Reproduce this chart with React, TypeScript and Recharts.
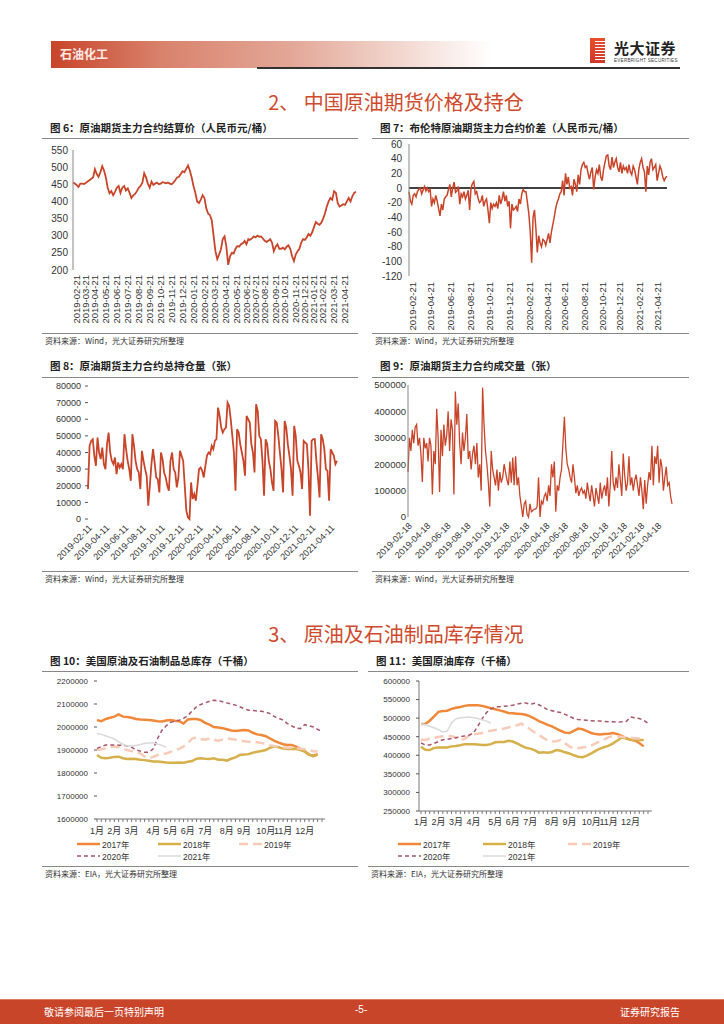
import React from "react"
import { LineChart, Line, XAxis, YAxis, ReferenceLine } from "recharts"

const RED = "#c8452a"
const FONT = '"Liberation Sans", Arial, "Noto Sans CJK SC", sans-serif'
const CJK = '"Noto Sans CJK SC", "Liberation Sans", sans-serif'

// 图6 原油期货主力合约结算价 (one row of values per month, Feb 2019 .. May 2021)
const settleLabels = [
  "2019-02-21", "2019-03-21", "2019-04-21", "2019-05-21", "2019-06-21", "2019-07-21", "2019-08-21",
  "2019-09-21", "2019-10-21", "2019-11-21", "2019-12-21", "2020-01-21", "2020-02-21", "2020-03-21",
  "2020-04-21", "2020-05-21", "2020-06-21", "2020-07-21", "2020-08-21", "2020-09-21", "2020-10-21",
  "2020-11-21", "2020-12-21", "2021-01-21", "2021-02-21", "2021-03-21", "2021-04-21",
]
const settleByMonth = [
  [455, 452, 448, 442, 452],
  [452, 451, 454, 458, 462],
  [466, 470, 494, 480, 472, 485],
  [503, 490, 470, 440, 424, 430],
  [418, 428, 440, 445, 425, 440],
  [445, 432, 438, 425, 410, 418],
  [422, 430, 440, 445, 455, 482],
  [470, 452, 440, 458, 448, 452],
  [455, 450, 452, 456, 455, 453],
  [455, 452, 450, 455, 462, 470],
  [472, 480, 488, 485, 495, 505],
  [490, 470, 445, 425, 400, 395],
  [405, 418, 410, 380, 365, 360],
  [345, 300, 255, 232, 245, 260],
  [290, 298, 268, 215, 240, 250],
  [248, 262, 270, 268, 275],
  [278, 285, 275, 290, 288],
  [292, 298, 295, 300, 297],
  [298, 292, 285, 282, 285, 290],
  [280, 255, 268, 275, 262],
  [262, 265, 260, 268, 272, 262],
  [240, 226, 245, 255, 262],
  [280, 290, 288, 295, 305],
  [300, 310, 325, 340, 335],
  [332, 338, 350, 365, 385, 400],
  [410, 405, 430, 425, 395, 385],
  [388, 392, 390, 400, 410, 400],
  [415, 425, 428],
]

// 图7 布伦特原油期货主力合约价差
const spreadLabels = [
  "2019-02-21", "2019-04-21", "2019-06-21", "2019-08-21", "2019-10-21", "2019-12-21", "2020-02-21",
  "2020-04-21", "2020-06-21", "2020-08-21", "2020-10-21", "2020-12-21", "2021-02-21", "2021-04-21",
]
const spreadByMonth = [
  [-5, -18, -22, -10, -8, -12],
  [-5, -2, 0, -8, -3, 2, -4],
  [0, -5, -2, -25, -15, -20, -10],
  [-18, -28, -38, -22, -30, -15, -12],
  [-10, -2, 5, -12, 0, 8, -6],
  [-4, 2, -22, -8, -12, -5, -15],
  [-10, -3, -30, 0, 6, 9, -8],
  [-5, -14, -20, -18, -10, -25, -18],
  [-15, -30, -48, -20, -28, -22, -25],
  [-20, -28, -10, -22, -15, -5, -18],
  [-10, -25, -18, -55, -22, -30, -28],
  [-25, -32, -15, -22, -8, -2, -5],
  [-5, -20, -35, -60, -102, -40],
  [-30, -55, -88, -65, -75, -80, -70],
  [-72, -78, -70, -62, -75, -60],
  [-50, -40, -28, -20, -15, -8],
  [-5, 10, -10, 20, 5, 15, 0],
  [2, -10, 12, 5, -5, 18, 5],
  [25, 32, 35, 28, 30, 20],
  [12, 22, 28, -2, 15, 25, 20],
  [32, 15, 10, 25, 35, 44],
  [45, 30, 25, 42, 28, 35],
  [40, 28, 22, 35, 20, 30, 25],
  [28, 20, 32, 22, 18, 30, 25],
  [15, 5, 25, 35, 40, 28],
  [22, -5, 30, 18, 35, 40, 25],
  [28, 32, 10, 20, 30, 25],
  [15, 10, 14, 16],
]

// 图8 原油期货主力合约总持仓量
const oiLabels = [
  "2019-02-11", "2019-04-11", "2019-06-11", "2019-08-11", "2019-10-11", "2019-12-11", "2020-02-11",
  "2020-04-11", "2020-06-11", "2020-08-11", "2020-10-11", "2020-12-11", "2021-02-11", "2021-04-11",
]
const oiByMonth = [
  [18000, 44000, 47000, 48000, 38000],
  [32000, 49000, 40000, 36000, 43000, 33000],
  [30000, 45000, 52000, 40000, 35000, 33000],
  [37000, 27000, 34000, 31000, 33000, 30000],
  [51000, 42000, 35000, 30000, 23000],
  [51000, 44000, 35000, 30000, 28000, 18000],
  [41000, 35000, 30000, 26000, 8000, 20000],
  [33000, 42000, 34000, 25000, 24000, 16000],
  [40000, 36000, 28000, 25000, 20000, 17000],
  [35000, 40000, 30000, 28000, 19000, 25000],
  [41000, 38000, 35000, 20000, 5000, 1000],
  [0, 22000, 12000, 15000, 11000, 20000],
  [30000, 31000, 29000, 25000, 32000, 38000],
  [40000, 39000, 44000, 42000, 47000, 48000],
  [67000, 62000, 55000, 52000, 54000, 55000],
  [70000, 68000, 60000, 50000, 40000, 17000],
  [54000, 52000, 45000, 40000, 35000, 26000],
  [62000, 60000, 58000, 45000, 40000, 28000],
  [69000, 65000, 50000, 48000, 35000, 14000],
  [48000, 45000, 35000, 30000, 22000, 17000],
  [59000, 58000, 50000, 40000, 30000, 16000],
  [59000, 55000, 45000, 38000, 30000, 14000],
  [56000, 50000, 35000, 32000, 28000, 18000],
  [47000, 46000, 45000, 30000, 2000],
  [47000, 48000, 48000, 35000, 25000, 13000],
  [51000, 48000, 42000, 30000, 29000, 11000],
  [42000, 40000, 38000, 33000, 35000],
]

// 图9 原油期货主力合约成交量
const volLabels = [
  "2019-02-18", "2019-04-18", "2019-06-18", "2019-08-18", "2019-10-18", "2019-12-18", "2020-02-18",
  "2020-04-18", "2020-06-18", "2020-08-18", "2020-10-18", "2020-12-18", "2021-02-18", "2021-04-18",
]
const volByMonth = [
  [170000, 300000, 250000, 330000, 280000, 340000],
  [350000, 270000, 300000, 240000, 133000, 300000, 260000],
  [280000, 210000, 300000, 270000, 85000, 250000, 200000],
  [410000, 300000, 95000, 330000, 230000, 350000, 270000],
  [310000, 400000, 250000, 370000, 330000, 85000, 475000],
  [350000, 430000, 280000, 200000, 320000, 250000, 300000],
  [390000, 220000, 250000, 180000, 240000, 270000, 200000],
  [280000, 150000, 200000, 100000, 490000, 350000, 250000],
  [200000, 130000, 40000, 250000, 180000, 150000],
  [120000, 180000, 100000, 170000, 130000, 150000, 200000],
  [170000, 140000, 120000, 210000, 130000, 225000, 120000],
  [230000, 120000, 150000, 80000, 40000, 0, 50000],
  [60000, 10000, 0, 50000, 20000, 25000, 30000],
  [30000, 40000, 150000, 0, 60000, 50000, 80000],
  [90000, 60000, 120000, 80000, 200000, 150000, 210000],
  [20000, 120000, 100000, 150000, 180000, 280000],
  [380000, 260000, 200000, 180000, 150000, 130000, 200000],
  [150000, 90000, 120000, 80000, 100000, 110000, 90000],
  [100000, 70000, 130000, 90000, 60000, 120000, 80000],
  [40000, 110000, 80000, 50000, 130000, 70000, 100000],
  [120000, 80000, 150000, 40000, 120000, 250000, 130000],
  [100000, 150000, 110000, 200000, 140000, 80000],
  [240000, 160000, 100000, 130000, 230000, 120000],
  [150000, 100000, 140000, 160000, 120000, 80000],
  [150000, 100000, 30000, 140000, 50000, 120000],
  [170000, 140000, 270000, 120000, 230000, 200000],
  [270000, 130000, 220000, 190000, 100000, 150000, 190000],
  [120000, 130000, 80000, 50000],
]

// 图10 / 图11 weekly inventories (千桶), week slots of the year
const monthNames = ["1月", "2月", "3月", "4月", "5月", "6月", "7月", "8月", "9月", "10月", "11月", "12月"]
const monthWeeks10 = [0, 4, 8, 13, 17, 21, 25, 30, 34, 39, 43, 48]
const monthWeeks11 = [0, 4, 8, 12, 17, 21, 25, 30, 34, 39, 43, 48]
const weekCount = 53

const total2017 = [
  2030000, 2025000, 2035000, 2040000, 2045000, 2055000, 2045000, 2043000, 2040000, 2035000,
  2033000, 2032000, 2030000, 2028000, 2025000, 2024000, 2028000, 2030000, 2027000, 2025000,
  2015000, 2033000, 2035000, 2035000, 2030000, 2018000, 2010000, 2000000, 1998000, 1995000,
  1990000, 1985000, 1983000, 1985000, 1987000, 1985000, 1975000, 1968000, 1965000, 1960000,
  1950000, 1940000, 1932000, 1925000, 1922000, 1922000, 1915000, 1905000, 1895000, 1880000,
  1875000, 1882000,
]
const total2018 = [
  1878000, 1866000, 1864000, 1866000, 1870000, 1871000, 1864000, 1861000, 1862000, 1861000,
  1858000, 1856000, 1853000, 1850000, 1850000, 1848000, 1846000, 1845000, 1845000, 1846000,
  1845000, 1849000, 1852000, 1862000, 1864000, 1862000, 1861000, 1864000, 1858000, 1858000,
  1854000, 1862000, 1868000, 1878000, 1880000, 1882000, 1888000, 1892000, 1896000, 1900000,
  1910000, 1916000, 1912000, 1906000, 1904000, 1905000, 1904000, 1900000, 1893000, 1880000,
  1872000, 1880000,
]
const total2019 = [
  1900000, 1903000, 1907000, 1912000, 1915000, 1912000, 1905000, 1900000, 1895000, 1890000,
  1885000, 1872000, 1864000, 1870000, 1878000, 1882000, 1885000, 1892000, 1900000, 1905000,
  1915000, 1930000, 1950000, 1955000, 1948000, 1945000, 1950000, 1945000, 1940000, 1945000,
  1950000, 1948000, 1945000, 1940000, 1938000, 1936000, 1936000, 1934000, 1930000, 1928000,
  1920000, 1917000, 1915000, 1912000, 1910000, 1910000, 1908000, 1906000, 1903000, 1900000,
  1895000, 1893000,
]
const total2020 = [
  1907000, 1915000, 1922000, 1922000, 1922000, 1921000, 1920000, 1918000, 1912000, 1900000,
  1895000, 1890000, 1890000, 1905000, 1950000, 1985000, 2005000, 2020000, 2025000, 2030000,
  2038000, 2050000, 2070000, 2088000, 2098000, 2105000, 2112000, 2116000, 2115000, 2110000,
  2105000, 2100000, 2095000, 2088000, 2080000, 2073000, 2072000, 2070000, 2068000, 2065000,
  2058000, 2045000, 2038000, 2030000, 2015000, 2005000, 1995000, 1993000, 2010000, 2005000,
  2000000, 1990000, 1980000,
]
const total2021 = [
  1972000, 1968000, 1962000, 1955000, 1948000, 1935000, 1925000, 1918000, 1917000, 1920000,
  1924000, 1929000, 1930000, 1930000, 1926000, 1920000, 1912000,
]

const crude2017 = [
  484000, 485000, 493000, 505000, 517000, 519000, 520000, 525000, 528000, 530000,
  533000, 535000, 535000, 535000, 533000, 530000, 527000, 524000, 521000, 518000,
  514000, 513000, 512000, 511000, 509000, 505000, 499000, 492000, 487000, 482000,
  478000, 472000, 466000, 461000, 460000, 466000, 472000, 470000, 465000, 460000,
  457000, 456000, 457000, 458000, 460000, 457000, 452000, 446000, 442000, 440000,
  433000, 424000,
]
const crude2018 = [
  423000, 415000, 414000, 420000, 421000, 421000, 421000, 424000, 425000, 427000,
  430000, 430000, 430000, 429000, 428000, 428000, 430000, 435000, 436000, 436000,
  439000, 437000, 432000, 426000, 420000, 418000, 414000, 407000, 408000, 407000,
  409000, 414000, 412000, 408000, 405000, 400000, 396000, 395000, 399000, 405000,
  412000, 418000, 422000, 426000, 432000, 440000, 448000, 445000, 442000, 441000,
  441000, 441000,
]
const crude2019 = [
  442000, 441000, 445000, 447000, 449000, 451000, 452000, 451000, 448000, 441000,
  444000, 452000, 456000, 458000, 460000, 464000, 466000, 468000, 470000, 472000,
  475000, 478000, 481000, 485000, 478000, 470000, 462000, 455000, 447000, 440000,
  437000, 438000, 441000, 432000, 424000, 418000, 419000, 421000, 423000, 426000,
  432000, 438000, 443000, 449000, 451000, 451000, 450000, 448000, 447000, 446000,
  445000, 442000,
]
const crude2020 = [
  433000, 428000, 428000, 432000, 437000, 442000, 443000, 445000, 447000, 450000,
  452000, 454000, 460000, 478000, 498000, 515000, 525000, 530000, 531000, 532000,
  533000, 535000, 538000, 540000, 541000, 537000, 540000, 536000, 530000, 523000,
  520000, 517000, 515000, 510000, 505000, 499000, 496000, 495000, 494000, 493000,
  492000, 492000, 491000, 490000, 490000, 489000, 490000, 491000, 503000, 501000,
  499000, 494000, 486000,
]
const crude2021 = [
  485000, 482000, 478000, 474000, 469000, 463000, 465000, 488000, 498000, 501000,
  502000, 503000, 501000, 499000, 496000, 492000, 487000,
]

const yearSeries = [
  { key: "y2017", name: "2017年", color: "#f0883a", width: 2.5, dash: undefined as string | undefined },
  { key: "y2018", name: "2018年", color: "#d6b04a", width: 2.5, dash: undefined },
  { key: "y2019", name: "2019年", color: "#f8cbb8", width: 2.5, dash: "9 5" },
  { key: "y2020", name: "2020年", color: "#a8566a", width: 1.5, dash: "4 3" },
  { key: "y2021", name: "2021年", color: "#d9d9d9", width: 1.5, dash: undefined },
]

type Row = { x: number; v: number }

function flatten(groups: number[][]) {
  const rows: Row[] = []
  const starts: number[] = []
  groups.forEach((g) => {
    starts.push(rows.length)
    g.forEach((v) => rows.push({ x: rows.length, v }))
  })
  return { rows, starts }
}

function monthTicks(starts: number[], labels: string[], step: number) {
  const m = new Map<number, string>()
  labels.forEach((l, k) => m.set(starts[k * step], l))
  return { ticks: Array.from(m.keys()), fmt: (v: number) => m.get(v) ?? "" }
}

function weeklyRows(y17: number[], y18: number[], y19: number[], y20: number[], y21: number[]) {
  return Array.from({ length: weekCount }, (_, w) => ({
    w,
    y2017: y17[w],
    y2018: y18[w],
    y2019: y19[w],
    y2020: y20[w],
    y2021: y21[w],
  }))
}

const d6 = flatten(settleByMonth)
const t6 = monthTicks(d6.starts, settleLabels, 1)
const d7 = flatten(spreadByMonth)
const t7 = monthTicks(d7.starts, spreadLabels, 2)
const d8 = flatten(oiByMonth)
const t8 = monthTicks(d8.starts, oiLabels, 2)
const d9 = flatten(volByMonth)
const t9 = monthTicks(d9.starts, volLabels, 2)
const w10 = weeklyRows(total2017, total2018, total2019, total2020, total2021)
const w11 = weeklyRows(crude2017, crude2018, crude2019, crude2020, crude2021)

const weekFmt = (slots: number[]) => (v: number) => {
  const i = slots.indexOf(v)
  return i >= 0 ? monthNames[i] : ""
}

const abs = (left: number, top: number): React.CSSProperties => ({ position: "absolute", left, top })

function Frame(props: { x: number; w: number; titleY: number; lineY: number; srcY: number; title: string; source: string }) {
  const { x, w, titleY, lineY, srcY, title, source } = props
  return (
    <>
      <div style={{ ...abs(x + 8, titleY), fontFamily: CJK, fontWeight: 700, fontSize: 10.5, color: "#222", whiteSpace: "nowrap" }}>{title}</div>
      <div style={{ ...abs(x, lineY), width: w, height: 1, background: "#888" }} />
      <div style={{ ...abs(x, srcY), width: w, height: 1, background: "#888" }} />
      <div style={{ ...abs(x + 3, srcY + 2), fontFamily: CJK, fontSize: 8, color: "#333", whiteSpace: "nowrap" }}>{source}</div>
    </>
  )
}

function YearLegend({ left, top, col }: { left: number; top: number; col: number }) {
  return (
    <div style={{ ...abs(left, top), width: col * 3, display: "flex", flexWrap: "wrap", rowGap: 1 }}>
      {yearSeries.map((s) => (
        <div key={s.key} style={{ width: col, height: 11.5, display: "flex", alignItems: "center" }}>
          <svg width={23} height={6} style={{ marginRight: 2 }}>
            <line x1={0} y1={3} x2={23} y2={3} stroke={s.color} strokeWidth={s.width} strokeDasharray={s.dash} />
          </svg>
          <span style={{ fontFamily: FONT, fontSize: 8.5, color: "#333" }}>{s.name}</span>
        </div>
      ))}
    </div>
  )
}

const tickText = { fontSize: 10, fill: "#333", fontFamily: FONT }

export default function App() {
  return (
    <div style={{ position: "absolute", left: 0, top: 0, width: 724, height: 1024, background: "#fff", overflow: "hidden", fontFamily: CJK }}>
      {/* header */}
      <div style={{ ...abs(51, 41), width: 440, height: 27, background: "linear-gradient(to right, #c8442a 0%, #d9826c 25%, #e3a898 55%, #f3d8d0 80%, #ffffff 100%)" }} />
      <div style={{ ...abs(60, 46), color: "#fbe9e4", fontWeight: 700, fontSize: 12, lineHeight: "16px" }}>石油化工</div>
      <div style={{ ...abs(257, 67), width: 423, height: 1.5, background: "#333" }} />
      <div style={{ ...abs(590, 38), width: 15, height: 25, background: "linear-gradient(to bottom, #e8502c, #d2372a)" }}>
        <div style={{ position: "absolute", left: 5, top: 3, width: 10, height: 19, background: "repeating-linear-gradient(180deg, #ffffff 0px, #ffffff 1px, transparent 1px, transparent 3px)" }} />
      </div>
      <div style={{ ...abs(614, 40), fontWeight: 700, fontSize: 15, lineHeight: "15px", color: "#222", letterSpacing: 0.5 }}>光大证券</div>
      <div style={{ ...abs(614, 58), fontFamily: FONT, fontSize: 4.5, lineHeight: "5px", color: "#333", letterSpacing: 0.3, whiteSpace: "nowrap" }}>EVERBRIGHT SECURITIES</div>

      <div style={{ ...abs(0, 87), width: 792, textAlign: "center", color: "#cf4a2c", fontSize: 20 }}>2、 中国原油期货价格及持仓</div>

      {/* 图6 */}
      <Frame x={42} w={316} titleY={120} lineY={138} srcY={333} title="图 6：原油期货主力合约结算价（人民币元/桶）" source="资料来源：Wind，光大证券研究所整理" />
      <div style={abs(40, 140)}>
        <LineChart width={320} height={190} data={d6.rows} margin={{ top: 10, right: 4, left: 5, bottom: 0 }}>
          <XAxis type="number" dataKey="x" domain={[0, d6.rows.length - 1]} ticks={t6.ticks} tickFormatter={t6.fmt} interval={0}
            height={60} axisLine={false} tickLine={false} tickSize={4} tickMargin={1}
            tick={{ ...tickText, fontSize: 9.5, angle: -90, textAnchor: "end", verticalAnchor: "middle" }} />
          <YAxis domain={[200, 550]} ticks={[200, 250, 300, 350, 400, 450, 500, 550]} interval={0} width={28} tickLine={false}
            axisLine={{ stroke: "#888" }} tickSize={2} tickMargin={3} tick={tickText} />
          <Line dataKey="v" stroke={RED} strokeWidth={1.8} dot={false} activeDot={false} isAnimationActive={false} />
        </LineChart>
      </div>

      {/* 图7 */}
      <Frame x={372} w={317} titleY={120} lineY={138} srcY={333} title="图 7：布伦特原油期货主力合约价差（人民币元/桶）" source="资料来源：Wind，光大证券研究所整理" />
      <div style={abs(365, 134)}>
        <LineChart width={315} height={200} data={d7.rows} margin={{ top: 10, right: 13, left: 4, bottom: 0 }}>
          <XAxis type="number" dataKey="x" domain={[0, d7.rows.length - 1]} ticks={t7.ticks} tickFormatter={t7.fmt} interval={0}
            height={58} axisLine={false} tickLine={false} tickSize={4} tickMargin={2}
            tick={{ ...tickText, fontSize: 9.5, angle: -90, textAnchor: "end", verticalAnchor: "middle" }} />
          <YAxis domain={[-120, 60]} ticks={[-120, -100, -80, -60, -40, -20, 0, 20, 40, 60]} interval={0} width={40} tickLine={false}
            axisLine={{ stroke: "#888" }} tickSize={4} tickMargin={3} tick={tickText} />
          <ReferenceLine y={0} stroke="#000" strokeWidth={1.5} />
          <Line dataKey="v" stroke={RED} strokeWidth={1.5} dot={false} activeDot={false} isAnimationActive={false} />
        </LineChart>
      </div>

      {/* 图8 */}
      <Frame x={42} w={316} titleY={358} lineY={377} srcY={571} title="图 8：原油期货主力合约总持仓量（张）" source="资料来源：Wind，光大证券研究所整理" />
      <div style={abs(40, 378)}>
        <LineChart width={300} height={195} data={d8.rows} margin={{ top: 8, right: 3, left: 4, bottom: 0 }}>
          <XAxis type="number" dataKey="x" domain={[0, d8.rows.length - 1]} ticks={t8.ticks} tickFormatter={t8.fmt} interval={0}
            height={54} axisLine={false} tickLine={false} tickSize={3} tickMargin={2}
            tick={{ ...tickText, fontSize: 9, angle: -45, textAnchor: "end", verticalAnchor: "middle" }} />
          <YAxis domain={[0, 80000]} ticks={[0, 10000, 20000, 30000, 40000, 50000, 60000, 70000, 80000]} interval={0} width={44}
            axisLine={false} tickLine={{ stroke: "#555" }} tickSize={3} tickMargin={4} tick={{ ...tickText, fontSize: 9 }} />
          <Line dataKey="v" stroke={RED} strokeWidth={1.8} dot={false} activeDot={false} isAnimationActive={false} />
        </LineChart>
      </div>

      {/* 图9 */}
      <Frame x={372} w={317} titleY={358} lineY={377} srcY={571} title="图 9：原油期货主力合约成交量（张）" source="资料来源：Wind，光大证券研究所整理" />
      <div style={abs(365, 377)}>
        <LineChart width={315} height={195} data={d9.rows} margin={{ top: 8, right: 8, left: 3, bottom: 0 }}>
          <XAxis type="number" dataKey="x" domain={[0, d9.rows.length - 1]} ticks={t9.ticks} tickFormatter={t9.fmt} interval={0}
            height={55} axisLine={false} tickLine={false} tickSize={3} tickMargin={2}
            tick={{ ...tickText, fontSize: 9, angle: -45, textAnchor: "end", verticalAnchor: "middle" }} />
          <YAxis domain={[0, 500000]} ticks={[0, 100000, 200000, 300000, 400000, 500000]} interval={0} width={40}
            axisLine={{ stroke: "#888" }} tickLine={false} tickSize={0} tickMargin={2} tick={{ ...tickText, fontSize: 9.5 }} />
          <Line dataKey="v" stroke={RED} strokeWidth={1.3} dot={false} activeDot={false} isAnimationActive={false} />
        </LineChart>
      </div>

      <div style={{ ...abs(0, 619), width: 792, textAlign: "center", color: "#cf4a2c", fontSize: 20 }}>3、 原油及石油制品库存情况</div>

      {/* 图10 */}
      <Frame x={42} w={316} titleY={653} lineY={671} srcY={866} title="图 10：美国原油及石油制品总库存（千桶）" source="资料来源：EIA，光大证券研究所整理" />
      <div style={abs(40, 673)}>
        <LineChart width={290} height={172} data={w10} margin={{ top: 8, right: 5, left: 0, bottom: 0 }}>
          <XAxis dataKey="w" interval={0} tickFormatter={weekFmt(monthWeeks10)} height={26} padding={{ left: 0, right: 3 }}
            axisLine={{ stroke: "#777" }} tickLine={{ stroke: "#777" }} tickSize={3} tickMargin={6} tick={{ ...tickText, fontSize: 9 }} />
          <YAxis domain={[1600000, 2200000]} ticks={[1600000, 1700000, 1800000, 1900000, 2000000, 2100000, 2200000]} interval={0} width={57}
            axisLine={false} tickLine={{ stroke: "#555" }} tickSize={3} tickMargin={6} tick={{ ...tickText, fontSize: 8 }} />
          {yearSeries.map((s) => (
            <Line key={s.key} dataKey={s.key} stroke={s.color} strokeWidth={s.width} strokeDasharray={s.dash}
              dot={false} activeDot={false} isAnimationActive={false} />
          ))}
        </LineChart>
      </div>
      <YearLegend left={77} top={838} col={81} />

      {/* 图11 */}
      <Frame x={368} w={321} titleY={653} lineY={671} srcY={866} title="图 11：美国原油库存（千桶）" source="资料来源：EIA，光大证券研究所整理" />
      <div style={abs(365, 673)}>
        <LineChart width={295} height={160} data={w11} margin={{ top: 8, right: 8, left: 0, bottom: 0 }}>
          <XAxis dataKey="w" interval={0} tickFormatter={weekFmt(monthWeeks11)} height={22} padding={{ left: 2, right: 4 }}
            axisLine={{ stroke: "#777" }} tickLine={{ stroke: "#777" }} tickSize={3} tickMargin={5} tick={{ ...tickText, fontSize: 9 }} />
          <YAxis domain={[250000, 600000]} ticks={[250000, 300000, 350000, 400000, 450000, 500000, 550000, 600000]} interval={0} width={54}
            axisLine={{ stroke: "#777" }} tickLine={{ stroke: "#555" }} tickSize={3} tickMargin={6} tick={{ ...tickText, fontSize: 8 }} />
          {yearSeries.map((s) => (
            <Line key={s.key} dataKey={s.key} stroke={s.color} strokeWidth={s.width} strokeDasharray={s.dash}
              dot={false} activeDot={false} isAnimationActive={false} />
          ))}
        </LineChart>
      </div>
      <YearLegend left={398} top={838} col={85} />

      {/* footer */}
      <div style={{ ...abs(0, 999), width: 724, height: 25, background: RED, borderTop: "1px solid #e07a62" }} />
      <div style={{ ...abs(44, 1004), color: "#fff", fontSize: 10 }}>敬请参阅最后一页特别声明</div>
      <div style={{ ...abs(355, 1004), color: "#fff", fontSize: 10, fontFamily: FONT }}>-5-</div>
      <div style={{ ...abs(620, 1004), color: "#fff", fontSize: 10 }}>证券研究报告</div>
    </div>
  )
}
